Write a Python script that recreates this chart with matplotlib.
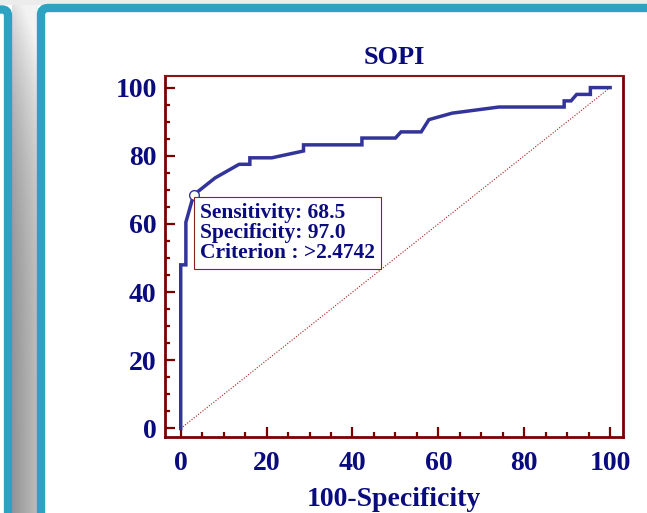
import numpy as np
import matplotlib.pyplot as plt
from matplotlib.patches import FancyBboxPatch, Rectangle
from matplotlib.ticker import MultipleLocator

# ROC curve (100-Specificity, Sensitivity)
fpr = [0, 0, 1.2, 1.2, 3.0, 8.0, 13.6, 16.1, 16.1, 21.2, 28.6, 28.6, 42.2, 42.2,
       50.0, 51.3, 56.0, 57.8, 63.2, 74.1, 89.3, 89.3, 90.9, 92.2, 95.4, 95.4, 100]
tpr = [0, 48.0, 48.0, 60.5, 68.5, 73.5, 77.5, 77.5, 79.4, 79.4, 81.4, 83.2, 83.2, 85.2,
       85.2, 87.0, 87.0, 90.6, 92.5, 94.3, 94.3, 96.1, 96.1, 98.0, 98.0, 100, 100]

cut_x, cut_y = 3.0, 68.5
box_lines = ["Sensitivity: 68.5", "Specificity: 97.0", "Criterion : >2.4742"]
ticks = [0, 20, 40, 60, 80, 100]

navy = "#0b0b80"
maroon = "#7a0000"
teal = "#2ea3c1"
font = "Liberation Serif"

fig = plt.figure(figsize=(6.47, 5.13), dpi=100)

# slide decoration in pixel coordinates
bg = fig.add_axes([0, 0, 1, 1], zorder=-5)
bg.set_xlim(0, 647)
bg.set_ylim(513, 0)
bg.axis("off")
bg.add_patch(Rectangle((0, 0), 647, 5, color="#ececec", lw=0))
gx = np.linspace(0.58, 0.74, 30)
gy = np.linspace(1.0, 0.0, 60)[:, None]
grad = np.clip(gx[None, :] + 0.3 * gy ** 4, 0, 0.95)
bg.imshow(grad, cmap="gray", vmin=0, vmax=1, extent=[12, 38, 513, 0], aspect="auto", zorder=0)
bg.add_patch(FancyBboxPatch((-100, 9.5), 108, 600, boxstyle="round,pad=0,rounding_size=6",
                            fc="none", ec=teal, lw=6, zorder=2))
bg.add_patch(FancyBboxPatch((41, 8), 700, 600, boxstyle="round,pad=0,rounding_size=7",
                            fc="white", ec=teal, lw=6, zorder=1))

ax = fig.add_axes([165 / 647, 1 - 437 / 513, (623 - 165) / 647, (437 - 76) / 513])
ax.set_facecolor("none")
ax.plot([0, 100], [0, 100], ls=(0, (1, 1.5)), color="#a82020", lw=0.8)
ax.plot(fpr, tpr, color="#33349a", lw=2.5, solid_joinstyle="miter")
ax.plot(cut_x, cut_y, "o", ms=7, mfc="white", mec="#33349a", mew=1.0)

ax.text(4.6, 66.0, "\n".join(box_lines), fontsize=15.5, fontweight="bold", family=font,
        color=navy, va="top", ha="left", linespacing=0.98,
        bbox=dict(boxstyle="square,pad=0.28", fc="white", ec="#8b2020", lw=0.8))

ax.set_xlim(-3.66, 103.0)
ax.set_ylim(-2.5, 103.4)
ax.set_xticks(ticks)
ax.set_yticks(ticks)
ax.xaxis.set_minor_locator(MultipleLocator(5))
ax.yaxis.set_minor_locator(MultipleLocator(5))
ax.tick_params(which="both", direction="in", color=maroon, width=1.6, top=False, right=False)
ax.tick_params(which="major", length=7, labelsize=20, labelcolor=navy)
ax.tick_params(which="minor", length=3.5)
ax.tick_params(axis="y", pad=6)
ax.tick_params(axis="x", pad=10)
for lab in ax.get_xticklabels() + ax.get_yticklabels():
    lab.set_fontfamily(font)
    lab.set_fontweight("bold")

for side, sp in ax.spines.items():
    sp.set_color(maroon)
    sp.set_linewidth(2.0)
ax.spines["top"].set_linewidth(1.5)
ax.spines["top"].set_color("#8a1515")

ax.set_title("SOPI", fontsize=19, fontweight="bold", family=font, color=navy, pad=9)
ax.set_xlabel("100-Specificity", fontsize=20, fontweight="bold", family=font,
              color=navy, labelpad=8)

fig.savefig("out.png", dpi=100)
